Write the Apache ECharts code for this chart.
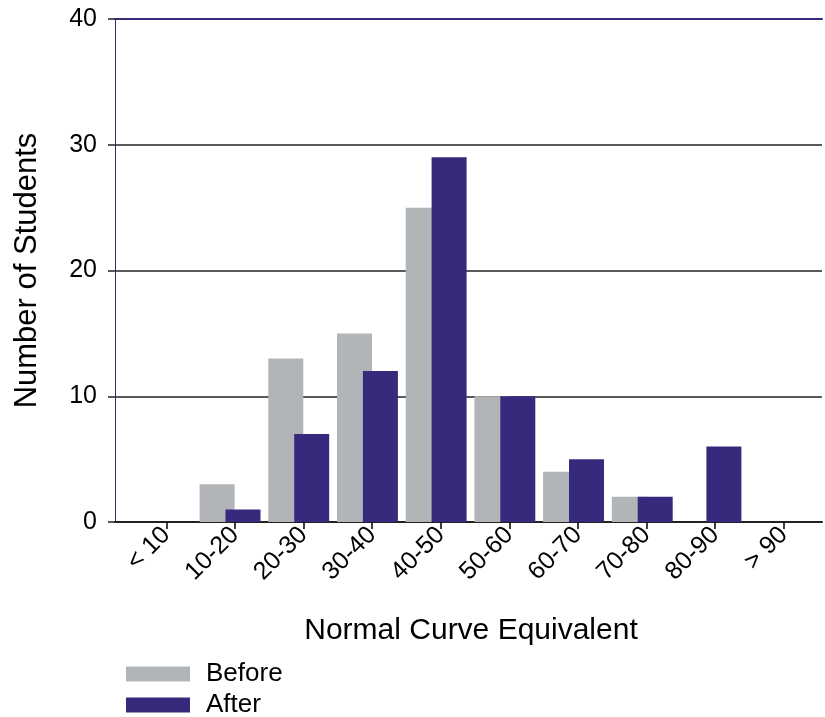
<!DOCTYPE html>
<html>
<head>
<meta charset="utf-8">
<style>
  html, body { margin: 0; padding: 0; background: #fff; }
  #main { width: 825px; height: 717px; }
</style>
</head>
<body>
<div id="main"></div>
<script src="https://cdn.jsdelivr.net/npm/echarts@6/dist/echarts.min.js"></script>
<script type="text/javascript">
    // data
    var categories = ['< 10', '10-20', '20-30', '30-40', '40-50', '50-60', '60-70', '70-80', '80-90', '> 90'];
    var beforeVals = [0, 3, 13, 15, 25, 10, 4, 2, 0, 0];
    var afterVals = [0, 1, 7, 12, 29, 10, 5, 2, 6, 0];
    var yTicks = [0, 10, 20, 30, 40];

    var GRAY = '#b1b5b7';
    var PURPLE = '#372a7c';
    var FONT = 'Liberation Sans, Arial, sans-serif';

    var myChart = echarts.init(document.getElementById('main'));

    var option = {
        animation: false,
        textStyle: { fontFamily: FONT },
        legend: {
            orient: 'vertical',
            left: 126,
            top: 661,
            height: 120,
            padding: 0,
            itemWidth: 64,
            itemHeight: 15,
            itemGap: 5,
            icon: 'rect',
            textStyle: { fontSize: 26, lineHeight: 20, color: '#000', fontFamily: FONT, padding: [0, 0, 0, 11] },
            data: ['Before', 'After']
        },
        // grid 0: frame, y axis, gridlines; grid 1: bars; grid 2: category ticks/labels
        grid: [
            { left: 115, right: 3, top: 19, bottom: 195 },
            { left: 127, right: 11, top: 19, bottom: 195 },
            { left: 132, right: 7, top: 19, bottom: 195 }
        ],
        xAxis: [
            {
                gridIndex: 0, type: 'value', min: 0, max: 1, position: 'bottom',
                axisLine: { show: true, lineStyle: { color: '#222', width: 2 } },
                axisTick: { show: false }, axisLabel: { show: false }, splitLine: { show: false }
            },
            {
                gridIndex: 0, type: 'value', min: 0, max: 1, position: 'top',
                axisLine: { show: true, lineStyle: { color: PURPLE, width: 2 } },
                axisTick: { show: false }, axisLabel: { show: false }, splitLine: { show: false }
            },
            {
                gridIndex: 1, type: 'category', data: categories, show: false
            },
            {
                gridIndex: 2, type: 'category', data: categories,
                axisLine: { show: false },
                axisTick: { show: true, alignWithLabel: true, length: 7, lineStyle: { color: '#000', width: 1.5 } },
                axisLabel: { rotate: 45, fontSize: 25, color: '#000', margin: 9, interval: 0, fontFamily: FONT },
                name: 'Normal Curve Equivalent',
                nameLocation: 'middle',
                nameGap: 94,
                nameTextStyle: { fontSize: 30, color: '#000', fontFamily: FONT, padding: [0, 8, 0, 0] }
            }
        ],
        yAxis: [
            {
                gridIndex: 0, type: 'value', min: yTicks[0], max: yTicks[yTicks.length - 1], interval: 10,
                axisLine: { show: true, lineStyle: { color: PURPLE, width: 1 } },
                axisTick: { show: true, length: 7, lineStyle: { color: '#222', width: 1.5 } },
                axisLabel: { fontSize: 25, color: '#000', margin: 18, fontFamily: FONT },
                splitLine: { show: true, lineStyle: { color: '#222', width: 1.5 } },
                name: 'Number of Students',
                nameLocation: 'middle',
                nameGap: 72,
                nameTextStyle: { fontSize: 31, color: '#000', fontFamily: FONT }
            },
            { gridIndex: 1, type: 'value', min: 0, max: 40, show: false },
            { gridIndex: 2, type: 'value', min: 0, max: 40, show: false }
        ],
        series: [
            {
                name: 'Before', type: 'bar', xAxisIndex: 2, yAxisIndex: 1,
                barWidth: 35, barGap: '-26%',
                itemStyle: { color: GRAY },
                data: beforeVals
            },
            {
                name: 'After', type: 'bar', xAxisIndex: 2, yAxisIndex: 1,
                barWidth: 35, barGap: '-26%',
                itemStyle: { color: PURPLE },
                data: afterVals
            }
        ]
    };

    myChart.setOption(option);
</script>
</body>
</html>
